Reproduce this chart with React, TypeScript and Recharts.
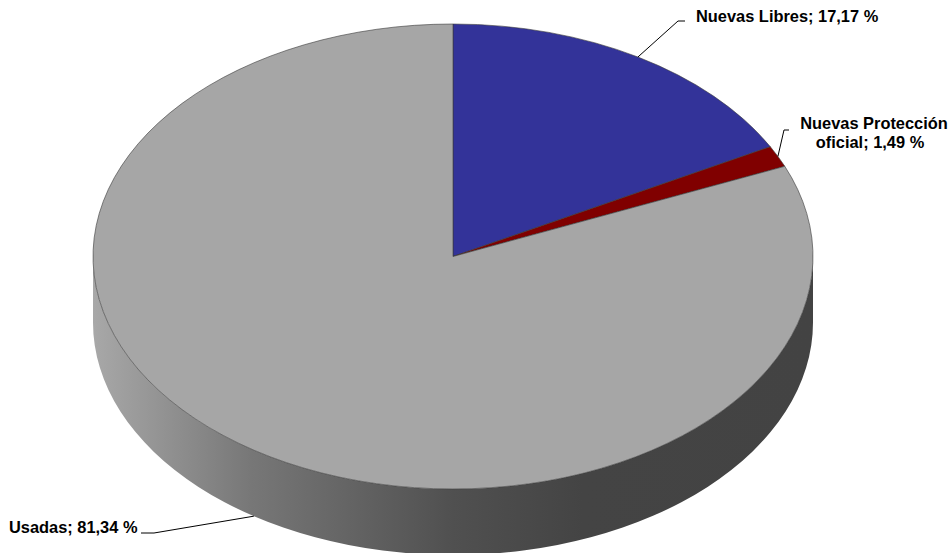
import React from "react";
import { PieChart, Pie, Cell } from "recharts";

const categories = ["Nuevas Libres", "Nuevas Protección oficial", "Usadas"];
const values = [17.17, 1.49, 81.34];
const valueLabels = ["17,17 %", "1,49 %", "81,34 %"];
const colors = ["#333399", "#800000", "#A6A6A6"];

const tableData = categories.map((name, i) => ({ name, value: values[i] }));

const W = 952, H = 553;
const CX = 453, CY = 256.5, RX = 360, RY = 232.5, DEPTH = 66;
const FONT = { fontFamily: "'Liberation Sans', Arial, sans-serif", fontWeight: 700, fontSize: 16.4 };

const px = (cx: number, a: number) => cx + RX * Math.cos((a * Math.PI) / 180);
const py = (cy: number, a: number) => cy - RY * Math.sin((a * Math.PI) / 180);

function TopSector(props: any) {
  const { cx, cy, startAngle, endAngle, fill } = props;
  const large = Math.abs(startAngle - endAngle) > 180 ? 1 : 0;
  const sweep = endAngle < startAngle ? 1 : 0;
  const d = `M${cx},${cy} L${px(cx, startAngle)},${py(cy, startAngle)} A${RX},${RY} 0 ${large} ${sweep} ${px(cx, endAngle)},${py(cy, endAngle)} Z`;
  return <path d={d} fill={fill} stroke="#3a3a3a" strokeWidth={0.6} strokeLinejoin="round" />;
}

function WallSector(props: any) {
  const { cx, cy, startAngle, endAngle } = props;
  const a0 = Math.min(Math.max(startAngle, endAngle), 0);
  const a1 = Math.max(Math.min(startAngle, endAngle), -180);
  if (a0 <= a1) return null;
  const xa = px(cx, a1), ya = py(cy, a1), xb = px(cx, a0), yb = py(cy, a0);
  const d = `M${xa},${ya} A${RX},${RY} 0 0 0 ${xb},${yb} L${xb},${yb + DEPTH} A${RX},${RY} 0 0 1 ${xa},${ya + DEPTH} Z`;
  return (
    <g>
      <defs>
        <linearGradient id="wallGrad" gradientUnits="userSpaceOnUse" x1={CX - RX} y1={0} x2={CX + RX} y2={0}>
          <stop offset="0" stopColor="#a8a8a8" />
          <stop offset="0.22" stopColor="#777777" />
          <stop offset="0.5" stopColor="#505050" />
          <stop offset="0.68" stopColor="#444444" />
          <stop offset="1" stopColor="#434343" />
        </linearGradient>
      </defs>
      <path d={d} fill="url(#wallGrad)" stroke="none" />
    </g>
  );
}

const labelLayout = [
  { elbow: [678, 21], end: [685, 21], lines: [{ x: 696, y: 22, anchor: "start", parts: [0] }] },
  { elbow: [784, 130], end: [789, 130], lines: [{ x: 874, y: 129, anchor: "middle", parts: [1] }, { x: 870, y: 148, anchor: "middle", parts: [2] }] },
  { elbow: [154, 533], end: [141, 533], lines: [{ x: 9, y: 533, anchor: "start", parts: [0] }] },
];

function lineText(i: number, part: number) {
  if (i === 1) return part === 1 ? "Nuevas Protección" : `oficial; ${valueLabels[1]}`;
  return `${categories[i]}; ${valueLabels[i]}`;
}

function renderLabel(props: any) {
  const { cx, cy, midAngle, index } = props;
  const layout = labelLayout[index];
  const onWall = Math.sin((midAngle * Math.PI) / 180) < 0;
  const ax = px(cx, midAngle);
  const ay = py(cy, midAngle) + (onWall ? DEPTH : 0);
  return (
    <g key={index}>
      <polyline
        points={`${ax},${ay} ${layout.elbow[0]},${layout.elbow[1]} ${layout.end[0]},${layout.end[1]}`}
        fill="none"
        stroke="#000"
        strokeWidth={1}
      />
      {layout.lines.map((l, j) => (
        <text key={j} x={l.x} y={l.y} textAnchor={l.anchor as any} fill="#000" {...FONT}>
          {lineText(index, l.parts[0])}
        </text>
      ))}
    </g>
  );
}

export default function App() {
  return (
    <div style={{ position: "absolute", left: 0, top: 0, width: W, height: H, background: "#fff" }}>
      <PieChart width={W} height={H} margin={{ top: 0, right: 0, bottom: 0, left: 0 }}>
        <Pie
          data={tableData}
          dataKey="value"
          nameKey="name"
          cx={CX}
          cy={CY}
          innerRadius={0}
          outerRadius={RX}
          startAngle={90}
          endAngle={-270}
          paddingAngle={0}
          stroke="none"
          isAnimationActive={false}
          shape={WallSector}
          label={false}
          labelLine={false}
        />
        <Pie
          data={tableData}
          dataKey="value"
          nameKey="name"
          cx={CX}
          cy={CY}
          innerRadius={0}
          outerRadius={RX}
          startAngle={90}
          endAngle={-270}
          paddingAngle={0}
          isAnimationActive={false}
          shape={TopSector}
          label={renderLabel}
          labelLine={false}
        >
          {tableData.map((d, i) => (
            <Cell key={d.name} fill={colors[i]} />
          ))}
        </Pie>
      </PieChart>
    </div>
  );
}
